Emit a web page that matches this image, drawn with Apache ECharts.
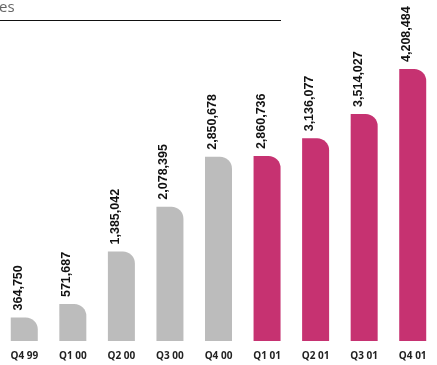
<!DOCTYPE html>
<html><head><meta charset="utf-8">
<script src="https://cdn.jsdelivr.net/npm/echarts@6/dist/echarts.min.js"></script>
<style>html,body{margin:0;padding:0;background:#fff}#c{width:437px;height:365px}</style>
</head><body><div id="c"></div>
<script>
const categories = ['Q4 99','Q1 00','Q2 00','Q3 00','Q4 00','Q1 01','Q2 01','Q3 01','Q4 01'];
const values = [364750, 571687, 1385042, 2078395, 2850678, 2860736, 3136077, 3514027, 4208484];
const highlightFrom = 5;
const titleText = 'es';

const gray = '#bcbcbc', magenta = '#c63271';
const chart = echarts.init(document.getElementById('c'));
chart.setOption({
  animation: false,
  grid: {left: 0, top: 69, width: 445.5, bottom: 24, containLabel: false},
  xAxis: {
    type: 'category', data: categories,
    axisLine: {show: false}, axisTick: {show: false},
    axisLabel: {margin: 10, fontSize: 10, fontWeight: 'bold', color: '#222', fontFamily: 'Open Sans'}
  },
  yAxis: {type: 'value', min: 0, max: 4208484, show: false, splitLine: {show: false}},
  graphic: [
    {type: 'text', left: -1, top: 0, style: {text: titleText, fontSize: 15, fill: '#666', fontFamily: 'Open Sans'}},
    {type: 'line', shape: {x1: 0, y1: 20.5, x2: 281, y2: 20.5}, style: {stroke: '#111', lineWidth: 1}}
  ],
  series: [{
    type: 'bar', barWidth: 27,
    data: values.map((v, i) => ({value: v, itemStyle: {color: i >= highlightFrom ? magenta : gray}})),
    itemStyle: {borderRadius: [0, 12, 0, 0]},
    label: {
      show: true, position: 'top', rotate: 90, align: 'left', verticalAlign: 'middle', distance: 7, offset: [0, -6],
      fontSize: 12.5, fontWeight: 'bold', color: '#111', fontFamily: 'Liberation Sans',
      formatter: p => p.value.toLocaleString('en-US')
    }
  }]
});
</script></body></html>
